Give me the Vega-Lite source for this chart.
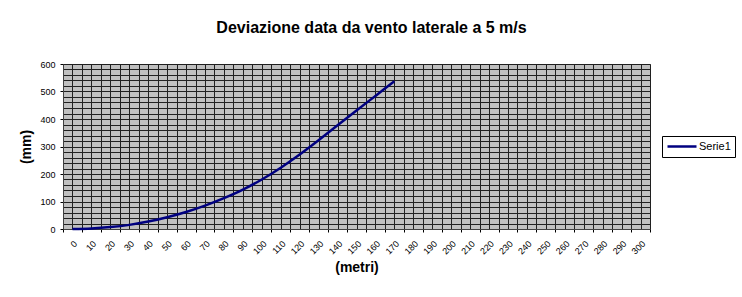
{
  "$schema": "https://vega.github.io/schema/vega-lite/v6.json",
  "width": 587,
  "height": 165,
  "autosize": {"type": "none"},
  "padding": {"left": 63, "top": 64, "right": 92, "bottom": 68},
  "background": "white",
  "title": {
    "text": "Deviazione data da vento laterale a 5 m/s",
    "font": "Liberation Sans",
    "fontSize": 16,
    "fontWeight": "bold",
    "color": "#000000",
    "anchor": "middle",
    "frame": "group",
    "dx": 15,
    "offset": 24
  },
  "config": {
    "view": {"fill": "#c0c0c0", "stroke": "#808080"}
  },
  "data": {
    "values": [
      {"metri": 0, "mm": 0, "serie": "Serie1"},
      {"metri": 10, "mm": 2, "serie": "Serie1"},
      {"metri": 20, "mm": 7, "serie": "Serie1"},
      {"metri": 30, "mm": 15, "serie": "Serie1"},
      {"metri": 40, "mm": 27, "serie": "Serie1"},
      {"metri": 50, "mm": 43, "serie": "Serie1"},
      {"metri": 60, "mm": 62, "serie": "Serie1"},
      {"metri": 70, "mm": 85, "serie": "Serie1"},
      {"metri": 80, "mm": 112, "serie": "Serie1"},
      {"metri": 90, "mm": 143, "serie": "Serie1"},
      {"metri": 100, "mm": 180, "serie": "Serie1"},
      {"metri": 110, "mm": 223, "serie": "Serie1"},
      {"metri": 120, "mm": 271, "serie": "Serie1"},
      {"metri": 130, "mm": 323, "serie": "Serie1"},
      {"metri": 140, "mm": 377, "serie": "Serie1"},
      {"metri": 150, "mm": 431, "serie": "Serie1"},
      {"metri": 160, "mm": 484, "serie": "Serie1"},
      {"metri": 170, "mm": 537, "serie": "Serie1"}
    ]
  },
  "layer": [
    {
      "mark": {"type": "line", "opacity": 0},
      "encoding": {
        "x": {
          "field": "metri",
          "type": "quantitative",
          "scale": {"domain": [-5, 305], "nice": false, "zero": false},
          "axis": {
            "orient": "bottom",
            "values": [-5,0,5,10,15,20,25,30,35,40,45,50,55,60,65,70,75,80,85,90,95,100,105,110,115,120,125,130,135,140,145,150,155,160,165,170,175,180,185,190,195,200,205,210,215,220,225,230,235,240,245,250,255,260,265,270,275,280,285,290,295,300,305],
            "grid": true,
            "gridColor": "#202020",
            "gridWidth": 1,
            "labels": false,
            "ticks": true,
            "tickSize": 3,
            "tickColor": "#000000",
            "tickOpacity": {"condition": {"test": "datum.value % 10 !== 0", "value": 1}, "value": 0},
            "domain": false,
            "title": null
          }
        },
        "y": {
          "field": "mm",
          "type": "quantitative",
          "scale": {"domain": [0, 600], "nice": false},
          "axis": {
            "orient": "left",
            "values": [0,20,40,60,80,100,120,140,160,180,200,220,240,260,280,300,320,340,360,380,400,420,440,460,480,500,520,540,560,580,600],
            "grid": true,
            "gridColor": "#202020",
            "gridWidth": 1,
            "labels": false,
            "ticks": false,
            "domain": false,
            "title": null
          }
        }
      }
    },
    {
      "mark": {"type": "line", "interpolate": "monotone", "strokeWidth": 2.5},
      "encoding": {
        "x": {
          "field": "metri",
          "type": "quantitative",
          "scale": {"domain": [-5, 305], "nice": false, "zero": false},
          "axis": {
            "orient": "bottom",
            "values": [0,10,20,30,40,50,60,70,80,90,100,110,120,130,140,150,160,170,180,190,200,210,220,230,240,250,260,270,280,290,300],
            "grid": false,
            "ticks": false,
            "labelAngle": -45,
            "labelFont": "Liberation Sans",
            "labelFontSize": 9,
            "labelColor": "#000000",
            "labelPadding": 10,
            "labelOverlap": false,
            "labelFlush": false,
            "domain": true,
            "domainColor": "#404040",
            "title": "(metri)",
            "titleFont": "Liberation Sans",
            "titleFontSize": 14,
            "titleFontWeight": "bold",
            "titleColor": "#000000",
            "titlePadding": 5
          }
        },
        "y": {
          "field": "mm",
          "type": "quantitative",
          "scale": {"domain": [0, 600], "nice": false},
          "axis": {
            "orient": "left",
            "values": [0,100,200,300,400,500,600],
            "grid": false,
            "ticks": true,
            "tickSize": 3,
            "tickColor": "#000000",
            "labelFont": "Liberation Sans",
            "labelFontSize": 9,
            "labelColor": "#000000",
            "labelPadding": 5,
            "labelFlush": false,
            "domain": true,
            "domainColor": "#404040",
            "title": "(mm)",
            "titleFont": "Liberation Sans",
            "titleFontSize": 14,
            "titleFontWeight": "bold",
            "titleColor": "#000000",
            "titlePadding": 6
          }
        },
        "color": {
          "field": "serie",
          "type": "nominal",
          "scale": {"range": ["#000080"]},
          "legend": {
            "orient": "none",
            "legendX": 599,
            "legendY": 72,
            "title": null,
            "symbolType": "stroke",
            "symbolStrokeWidth": 2.5,
            "symbolSize": 841,
            "clipHeight": 13,
            "labelFont": "Liberation Sans",
            "labelFontSize": 11,
            "labelColor": "#000000",
            "labelOffset": 1,
            "strokeColor": "#000000",
            "fillColor": "white",
            "padding": 4
          }
        }
      }
    }
  ],
  "resolve": {"axis": {"x": "independent", "y": "independent"}}
}
